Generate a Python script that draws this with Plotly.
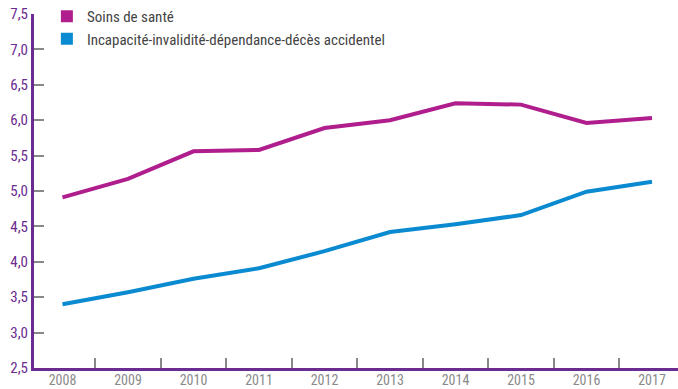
import plotly.graph_objects as go

years = ["2008", "2009", "2010", "2011", "2012", "2013", "2014", "2015", "2016", "2017"]
soins = [4.91, 5.17, 5.56, 5.58, 5.89, 6.00, 6.24, 6.22, 5.96, 6.03]
incap = [3.40, 3.57, 3.76, 3.91, 4.15, 4.42, 4.53, 4.66, 4.99, 5.13]
names = ["Soins de santé", "Incapacité-invalidité-dépendance-décès accidentel"]
colors = ["#B01E8E", "#0A8AD0"]

FONT = "Liberation Sans Narrow, Roboto Condensed, Arial Narrow, Roboto"
fig = go.Figure()
for vals, nm, c in zip([soins, incap], names, colors):
    fig.add_trace(go.Scatter(x=years, y=vals, mode="lines", line=dict(color=c, width=4),
                             showlegend=False, hoverinfo="skip"))
    fig.add_trace(go.Scatter(x=[None], y=[None], mode="markers", name=nm,
                             marker=dict(symbol="square", size=14, color=c)))

fig.update_layout(
    width=678, height=389,
    margin=dict(l=34, r=0, t=14, b=21),
    plot_bgcolor="white", paper_bgcolor="white",
    separators=", ",
    font=dict(family=FONT, size=14, color="#555555"),
    legend=dict(x=0.02, y=1.04, xanchor="left", yanchor="top", bgcolor="rgba(0,0,0,0)",
                font=dict(family=FONT, size=15, color="#444444"), tracegroupgap=0,
                itemsizing="constant"),
    xaxis=dict(type="category", range=[-0.435, 9.397], tickson="boundaries",
               ticks="inside", ticklen=10, tickwidth=1.5, tickcolor="#888888",
               showgrid=False, showline=True, linecolor="#6B2C91", linewidth=3,
               tickfont=dict(color="#8a8a8a", size=14), zeroline=False, automargin=False,
               ticklabelstandoff=-3),
    yaxis=dict(range=[2.5, 7.5], dtick=0.5, tick0=2.5, tickformat=".1f",
               ticks="inside", ticklen=10, tickwidth=1.5, tickcolor="#888888",
               showgrid=False, showline=True, linecolor="#6B2C91", linewidth=3,
               tickfont=dict(color="#6B2C91", size=15), zeroline=False, automargin=False),
)
fig.write_html("out.html", config={"displayModeBar": False},
               post_script="document.body.style.margin='0';document.body.style.overflow='hidden';")
